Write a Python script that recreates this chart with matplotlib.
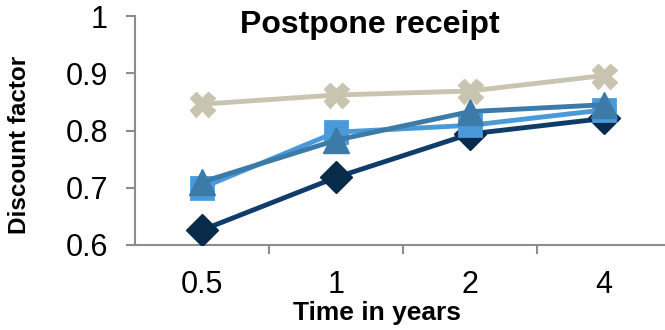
import numpy as np
import matplotlib.pyplot as plt

plt.rcParams['font.family'] = ['Liberation Sans', 'DejaVu Sans']

years = ['0.5', '1', '2', '4']
series_diamond = [0.626, 0.718, 0.794, 0.821]
series_square = [0.700, 0.797, 0.809, 0.836]
series_triangle = [0.710, 0.783, 0.833, 0.845]
series_cross = [0.846, 0.862, 0.869, 0.896]

fig = plt.figure(figsize=(6.65, 3.3), dpi=100)
ax = fig.add_axes([135 / 665, 85 / 330, 536 / 665, 229 / 330])

x = np.arange(len(years))
ax.plot(x, series_diamond, color='#0d3d68', lw=3.5, marker='D', ms=16,
        mfc='#082a4b', mec='#082a4b', zorder=3)
ax.plot(x, series_square, color='#4a9ad9', lw=3.5, marker='s', ms=16,
        mfc='#4a9ad9', mec='#4a9ad9', mew=2, zorder=4)
ax.plot(x, series_triangle, color='#3c7aa7', lw=3.5, marker='^', ms=19,
        mfc='#3c7aa7', mec='#3c7aa7', zorder=5)
ax.plot(x, series_cross, color='#c8c4af', lw=3.5, marker='X', ms=18,
        mfc='#c8c4af', mec='#c8c4af', zorder=6)

ax.set_xlim(-0.5, 3.5)
ax.set_ylim(0.6, 1.0)
ax.set_yticks([0.6, 0.7, 0.8, 0.9, 1.0])
ax.set_yticklabels(['0.6', '0.7', '0.8', '0.9', '1'])
ax.set_xticks(x)
ax.set_xticklabels(years)
ax.set_xticks([0.5, 1.5, 2.5], minor=True)

for side in ['top', 'right']:
    ax.spines[side].set_visible(False)
for side in ['left', 'bottom']:
    ax.spines[side].set_color('#8c8c8c')
    ax.spines[side].set_linewidth(1.5)

ax.tick_params(axis='y', length=6.5, width=1.5, color='#8c8c8c', pad=13,
               labelsize=22)
ax.tick_params(axis='x', which='major', length=0, pad=18, labelsize=22)
ax.tick_params(axis='x', which='minor', length=6.5, width=1.5, color='#8c8c8c')

fig.text(370 / 665, 1 - 25 / 330, 'Postpone receipt', ha='center', va='center',
         fontsize=23, fontweight='bold')
fig.text(377 / 665, 1 - 313 / 330, 'Time in years', ha='center', va='center',
         fontsize=19, fontweight='bold')
fig.text(20 / 665, 1 - 145 / 330, 'Discount factor', ha='center', va='center',
         rotation=90, fontsize=17.5, fontweight='bold')

fig.savefig('out.png', dpi=100)
